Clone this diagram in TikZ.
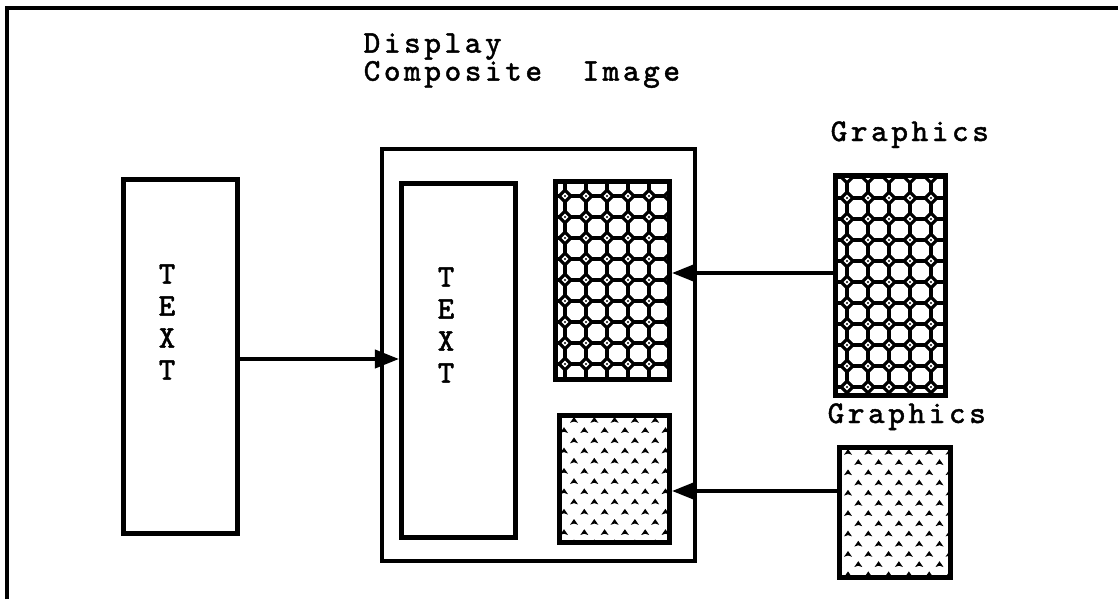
\documentclass[tikz,border=0pt]{standalone}
\usepackage{fontspec}
\newfontfamily\twfont[LetterSpace=11.4,FakeBold=1.3]{Latin Modern Mono}
\newcommand\tightls{\lineskiplimit=-20pt\relax}
\usetikzlibrary{arrows.meta}
\newcommand\octfill[3]{%
  \begin{scope}
    \clip ([xshift=1.4pt,yshift=1.4pt]#1.south west) rectangle ([xshift=-1.4pt,yshift=-1.4pt]#1.north east);
    \foreach \i in {-1,...,6}{\foreach \j in {-1,...,11}{
      \path ({#2+\i*21},{#3+\j*21}) coordinate (c);
      \draw[pat] (c) ++(-5.8,0) -- ++(5.8,-5.8) -- ++(5.8,5.8) -- ++(-5.8,5.8) -- cycle;
      \draw[pat] (c) ++(5.8,0) -- ++(9.4,0);
      \draw[pat] (c) ++(0,5.8) -- ++(0,9.4);
      \fill (c) circle[radius=0.12mm];
    }}
  \end{scope}}
\newcommand\chevfill[3]{%
  \begin{scope}
    \clip ([xshift=1.4pt,yshift=1.4pt]#1.south west) rectangle ([xshift=-1.4pt,yshift=-1.4pt]#1.north east);
    \foreach \j in {-1,...,14}{
      \pgfmathsetmacro\off{mod(\j+2,2)*(-10)}
      \foreach \i in {-1,...,6}{
        \path ({#2+\off+\i*20.3},{#3+\j*10.2}) coordinate (c);
        \fill (c) ++(-4,2.8) -- ++(4,-5.8) -- ++(4,5.8) -- ++(-4,-1.3) -- cycle;
      }}
  \end{scope}}
\begin{document}
\begin{tikzpicture}[x=0.01cm,y=-0.01cm,
  lbl/.style={font={\twfont\fontsize{9}{7.97}\selectfont\tightls}, inner sep=0pt},
  vlbl/.style={font={\twfont\fontsize{9}{9.1}\selectfont\tightls}, inner sep=0pt, align=center},
  box/.style={draw, line width=1.4pt, inner sep=0pt},
  pat/.style={line width=0.9pt},
  frame/.style={line width=0.9pt},
  arr/.style={line width=1.1pt, -{Triangle[length=2.4mm,width=1.8mm]}}]
\useasboundingbox (0,0) rectangle (1120,599);
% outer frame
\coordinate (fbl) at (7,599);
\coordinate (ftl) at (7,8);
\coordinate (ftr) at (1118,8);
\draw[frame] (fbl) -- (ftl) -- (ftr);
% boxes
\node[box, minimum width=1.14cm, minimum height=3.54cm] (ltext) at (180.5,356.5) {};
\node[box, line width=1.15pt, minimum width=3.13cm, minimum height=4.12cm] (comp) at (538.5,355) {};
\node[box, minimum width=1.14cm, minimum height=3.54cm] (itext) at (458.5,360.5) {};
\node[box, minimum width=1.14cm, minimum height=1.98cm] (ug) at (612.5,280.5) {};
\node[box, minimum width=1.10cm, minimum height=1.27cm] (lg) at (614.5,479) {};
\node[box, minimum width=1.10cm, minimum height=2.20cm] (rg1) at (890.5,285.5) {};
\node[box, minimum width=1.11cm, minimum height=1.30cm] (rg2) at (895,512.5) {};
% patterns
\octfill{ug}{565}{196}
\octfill{rg1}{847}{198}
\chevfill{lg}{574}{420}
\chevfill{rg2}{848}{452}
% labels
\node[lbl, anchor=north west, align=left] (disp) at (363,32.6) {Display\\Composite~~Image};
\node[lbl, anchor=base west] (g1) at (830,141) {Graphics};
\node[lbl, anchor=base west] (g2) at (827,423) {Graphics};
\node[vlbl] (ltxt) at (167,322) {T\\E\\X\\T};
\node[vlbl] (itxt) at (446,325) {T\\E\\X\\T};
% arrows
\draw[arr] ([yshift=-0.025cm]ltext.east) -- ([yshift=-0.025cm]ltext.east -| itext.west);
\draw[arr] ([yshift=0.125cm]rg1.west) -- ([yshift=0.125cm]rg1.west -| ug.east);
\draw[arr] ([yshift=0.215cm]rg2.west) -- ([yshift=0.215cm]rg2.west -| lg.east);
\end{tikzpicture}
\end{document}
